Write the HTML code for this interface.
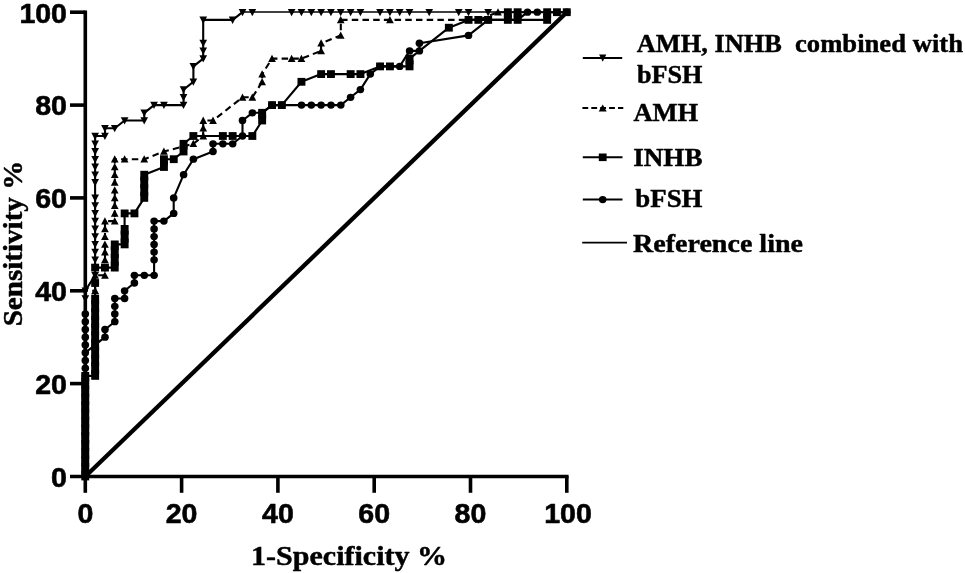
<!DOCTYPE html>
<html lang="en">
<head>
<meta charset="utf-8">
<title>ROC curves</title>
<style>
html,body{margin:0;padding:0;background:#fff;}
body{width:965px;height:573px;overflow:hidden;position:relative;}
svg{position:absolute;left:0;top:0;display:block;}
.tick{font-family:"Liberation Sans",Arial,sans-serif;font-weight:bold;font-size:28px;fill:#000;stroke:#000;stroke-width:0.6px;stroke-linejoin:round;}
.ser{font-family:"Liberation Serif","Times New Roman",serif;font-weight:bold;fill:#000;stroke:#000;stroke-width:0.45px;stroke-linejoin:round;}
.ttl{font-size:27.5px;}
.leg{font-size:26px;}
</style>
</head>
<body>
<svg width="965" height="573" viewBox="0 0 965 573">
<rect width="965" height="573" fill="#fff"/>
<g stroke="#000" stroke-width="3.6" fill="none" stroke-linecap="butt">
<path d="M85.3 10.4 V478.3"/>
<path d="M70 476.5 H568.6"/>
<path d="M85.3 476.5 V492.8"/>
<path d="M181.6 476.5 V492.8"/>
<path d="M70 383.6 H85.3"/>
<path d="M277.9 476.5 V492.8"/>
<path d="M70 290.8 H85.3"/>
<path d="M374.2 476.5 V492.8"/>
<path d="M70 197.9 H85.3"/>
<path d="M470.5 476.5 V492.8"/>
<path d="M70 105.1 H85.3"/>
<path d="M566.8 476.5 V492.8"/>
<path d="M70 12.2 H85.3"/>
</g>
<path d="M85.3 476.5 L566.8 12.2" stroke="#000" stroke-width="4.3" fill="none"/>
<g fill="none" stroke="#000" stroke-width="2.1" stroke-linejoin="round">
<polyline points="85.3,476.5 85.3,468.8 85.3,461.0 85.3,453.3 85.3,445.5 85.3,437.8 85.3,430.1 85.3,422.3 85.3,414.6 85.3,406.9 85.3,399.1 85.3,391.4 85.3,383.6 85.3,375.9 85.3,368.2 85.3,360.4 85.3,352.7 85.3,344.9 85.3,337.2 85.3,329.5 85.3,321.7 85.3,314.0 85.3,306.3 85.3,298.5 85.3,290.8 95.1,275.3 95.1,267.6 95.1,259.8 95.1,252.1 95.1,244.4 95.1,236.6 95.1,228.9 95.1,221.1 95.1,213.4 95.1,205.7 95.1,197.9 95.1,182.4 95.1,174.7 95.1,167.0 95.1,159.2 95.1,151.5 95.1,143.8 95.1,136.0 105.0,136.0 105.0,128.3 114.8,128.3 124.6,120.5 144.3,120.5 144.3,112.8 154.1,105.1 163.9,105.1 183.6,105.1 183.6,97.3 183.6,89.6 193.4,81.8 193.4,66.4 203.2,58.6 203.2,50.9 203.2,43.2 203.2,19.9 232.7,19.9 242.5,12.2"/>
<path stroke-width="1.4" d="M242.0 12.0 H566.8"/>
<polyline stroke-dasharray="6.5 4.2" points="85.3,476.5 85.3,468.8 85.3,461.0 85.3,453.3 85.3,445.5 85.3,437.8 85.3,430.1 85.3,422.3 85.3,414.6 85.3,406.9 85.3,399.1 85.3,391.4 85.3,383.6 85.3,375.9 85.3,368.2 85.3,360.4 85.3,352.7 85.3,344.9 85.3,337.2 85.3,329.5 85.3,321.7 85.3,314.0 85.3,306.3 85.3,298.5 85.3,290.8 95.1,290.8 95.1,275.3 105.0,275.3 105.0,267.6 105.0,259.8 105.0,252.1 105.0,244.4 105.0,236.6 105.0,228.9 105.0,221.1 114.8,221.1 114.8,213.4 114.8,205.7 114.8,197.9 114.8,190.2 114.8,182.4 114.8,174.7 114.8,167.0 114.8,159.2 124.6,159.2 144.3,159.2 163.9,151.5 193.4,143.8 203.2,136.0 203.2,128.3 203.2,120.5 213.0,120.5 242.5,97.3 252.4,97.3 262.2,81.8 262.2,74.1 272.0,58.6 291.7,58.6 301.5,58.6 321.1,50.9 321.1,43.2 340.8,35.4 340.8,19.9 389.9,19.9 478.4,19.9 498.0,12.2 566.8,12.2"/>
<polyline points="85.3,476.5 85.3,468.8 85.3,461.0 85.3,453.3 85.3,445.5 85.3,437.8 85.3,430.1 85.3,422.3 85.3,414.6 85.3,406.9 85.3,399.1 85.3,391.4 85.3,383.6 85.3,375.9 95.1,375.9 95.1,368.2 95.1,360.4 95.1,352.7 95.1,344.9 95.1,337.2 95.1,329.5 95.1,321.7 95.1,314.0 95.1,306.3 95.1,298.5 95.1,283.0 95.1,267.6 105.0,267.6 114.8,267.6 114.8,259.8 114.8,252.1 114.8,244.4 124.6,244.4 124.6,236.6 124.6,228.9 124.6,213.4 134.4,213.4 144.3,197.9 144.3,190.2 144.3,182.4 144.3,174.7 163.9,167.0 163.9,159.2 173.7,159.2 183.6,151.5 183.6,143.8 193.4,136.0 222.9,136.0 232.7,136.0 252.4,136.0 262.2,120.5 262.2,112.8 272.0,105.1 281.8,105.1 301.5,81.8 321.1,74.1 331.0,74.1 350.6,74.1 360.4,74.1 380.1,66.4 389.9,66.4 409.6,66.4 409.6,58.6 448.9,27.7 468.5,19.9 478.4,19.9 488.2,19.9 507.8,19.9 517.7,19.9 547.1,19.9 547.1,12.2 557.0,12.2 566.8,12.2"/>
<polyline points="85.3,476.5 85.3,468.8 85.3,461.0 85.3,453.3 85.3,445.5 85.3,437.8 85.3,430.1 85.3,422.3 85.3,414.6 85.3,406.9 85.3,399.1 85.3,391.4 85.3,383.6 85.3,375.9 85.3,368.2 85.3,360.4 85.3,352.7 95.1,344.9 105.0,337.2 105.0,329.5 114.8,321.7 114.8,314.0 114.8,306.3 114.8,298.5 124.6,298.5 124.6,290.8 134.4,283.0 134.4,275.3 144.3,275.3 154.1,275.3 154.1,259.8 154.1,252.1 154.1,244.4 154.1,236.6 154.1,228.9 154.1,221.1 163.9,221.1 173.7,213.4 173.7,197.9 183.6,174.7 193.4,159.2 213.0,151.5 213.0,143.8 222.9,143.8 232.7,143.8 242.5,136.0 242.5,120.5 252.4,112.8 262.2,112.8 272.0,105.1 281.8,105.1 301.5,105.1 311.3,105.1 321.1,105.1 331.0,105.1 340.8,105.1 350.6,97.3 360.4,89.6 370.3,74.1 380.1,66.4 399.7,66.4 409.6,50.9 419.4,50.9 419.4,43.2 468.5,35.4 488.2,19.9 517.7,19.9 527.5,12.2 537.3,12.2 566.8,12.2"/>
</g>
<g fill="#000">
<path d="M81.5 295.2 h7.7 l-3.9 7.3 z"/>
<path d="M81.5 287.4 h7.7 l-3.9 7.3 z"/>
<path d="M91.3 272.0 h7.7 l-3.9 7.3 z"/>
<path d="M91.3 264.2 h7.7 l-3.9 7.3 z"/>
<path d="M91.3 256.5 h7.7 l-3.9 7.3 z"/>
<path d="M91.3 248.7 h7.7 l-3.9 7.3 z"/>
<path d="M91.3 241.0 h7.7 l-3.9 7.3 z"/>
<path d="M91.3 233.3 h7.7 l-3.9 7.3 z"/>
<path d="M91.3 225.5 h7.7 l-3.9 7.3 z"/>
<path d="M91.3 217.8 h7.7 l-3.9 7.3 z"/>
<path d="M91.3 210.0 h7.7 l-3.9 7.3 z"/>
<path d="M91.3 202.3 h7.7 l-3.9 7.3 z"/>
<path d="M91.3 194.6 h7.7 l-3.9 7.3 z"/>
<path d="M91.3 179.1 h7.7 l-3.9 7.3 z"/>
<path d="M91.3 171.4 h7.7 l-3.9 7.3 z"/>
<path d="M91.3 163.6 h7.7 l-3.9 7.3 z"/>
<path d="M91.3 155.9 h7.7 l-3.9 7.3 z"/>
<path d="M91.3 148.1 h7.7 l-3.9 7.3 z"/>
<path d="M91.3 140.4 h7.7 l-3.9 7.3 z"/>
<path d="M91.3 132.7 h7.7 l-3.9 7.3 z"/>
<path d="M101.1 132.7 h7.7 l-3.9 7.3 z"/>
<path d="M101.1 124.9 h7.7 l-3.9 7.3 z"/>
<path d="M110.9 124.9 h7.7 l-3.9 7.3 z"/>
<path d="M120.8 117.2 h7.7 l-3.9 7.3 z"/>
<path d="M140.4 117.2 h7.7 l-3.9 7.3 z"/>
<path d="M140.4 109.4 h7.7 l-3.9 7.3 z"/>
<path d="M150.2 101.7 h7.7 l-3.9 7.3 z"/>
<path d="M160.1 101.7 h7.7 l-3.9 7.3 z"/>
<path d="M179.7 101.7 h7.7 l-3.9 7.3 z"/>
<path d="M179.7 94.0 h7.7 l-3.9 7.3 z"/>
<path d="M179.7 86.2 h7.7 l-3.9 7.3 z"/>
<path d="M189.5 78.5 h7.7 l-3.9 7.3 z"/>
<path d="M189.5 63.0 h7.7 l-3.9 7.3 z"/>
<path d="M199.4 55.3 h7.7 l-3.9 7.3 z"/>
<path d="M199.4 47.5 h7.7 l-3.9 7.3 z"/>
<path d="M199.4 39.8 h7.7 l-3.9 7.3 z"/>
<path d="M199.4 16.6 h7.7 l-3.9 7.3 z"/>
<path d="M228.8 16.6 h7.7 l-3.9 7.3 z"/>
<path d="M238.7 8.9 h7.7 l-3.9 7.3 z"/>
<path d="M248.5 8.9 h7.7 l-3.9 7.3 z"/>
<path d="M287.8 8.9 h7.7 l-3.9 7.3 z"/>
<path d="M297.6 8.9 h7.7 l-3.9 7.3 z"/>
<path d="M307.5 8.9 h7.7 l-3.9 7.3 z"/>
<path d="M317.3 8.9 h7.7 l-3.9 7.3 z"/>
<path d="M327.1 8.9 h7.7 l-3.9 7.3 z"/>
<path d="M336.9 8.9 h7.7 l-3.9 7.3 z"/>
<path d="M346.8 8.9 h7.7 l-3.9 7.3 z"/>
<path d="M356.6 8.9 h7.7 l-3.9 7.3 z"/>
<path d="M376.2 8.9 h7.7 l-3.9 7.3 z"/>
<path d="M386.1 8.9 h7.7 l-3.9 7.3 z"/>
<path d="M395.9 8.9 h7.7 l-3.9 7.3 z"/>
<path d="M405.7 8.9 h7.7 l-3.9 7.3 z"/>
<path d="M425.4 8.9 h7.7 l-3.9 7.3 z"/>
<path d="M454.9 8.9 h7.7 l-3.9 7.3 z"/>
<path d="M464.7 8.9 h7.7 l-3.9 7.3 z"/>
<path d="M484.3 8.9 h7.7 l-3.9 7.3 z"/>
<path d="M91.3 294.1 h7.7 l-3.9 -7.3 z"/>
<path d="M91.3 278.7 h7.7 l-3.9 -7.3 z"/>
<path d="M101.1 278.7 h7.7 l-3.9 -7.3 z"/>
<path d="M101.1 270.9 h7.7 l-3.9 -7.3 z"/>
<path d="M101.1 263.2 h7.7 l-3.9 -7.3 z"/>
<path d="M101.1 255.4 h7.7 l-3.9 -7.3 z"/>
<path d="M101.1 247.7 h7.7 l-3.9 -7.3 z"/>
<path d="M101.1 240.0 h7.7 l-3.9 -7.3 z"/>
<path d="M101.1 232.2 h7.7 l-3.9 -7.3 z"/>
<path d="M101.1 224.5 h7.7 l-3.9 -7.3 z"/>
<path d="M110.9 224.5 h7.7 l-3.9 -7.3 z"/>
<path d="M110.9 216.7 h7.7 l-3.9 -7.3 z"/>
<path d="M110.9 209.0 h7.7 l-3.9 -7.3 z"/>
<path d="M110.9 201.3 h7.7 l-3.9 -7.3 z"/>
<path d="M110.9 193.5 h7.7 l-3.9 -7.3 z"/>
<path d="M110.9 185.8 h7.7 l-3.9 -7.3 z"/>
<path d="M110.9 178.1 h7.7 l-3.9 -7.3 z"/>
<path d="M110.9 170.3 h7.7 l-3.9 -7.3 z"/>
<path d="M110.9 162.6 h7.7 l-3.9 -7.3 z"/>
<path d="M120.8 162.6 h7.7 l-3.9 -7.3 z"/>
<path d="M140.4 162.6 h7.7 l-3.9 -7.3 z"/>
<path d="M160.1 154.8 h7.7 l-3.9 -7.3 z"/>
<path d="M189.5 147.1 h7.7 l-3.9 -7.3 z"/>
<path d="M199.4 139.4 h7.7 l-3.9 -7.3 z"/>
<path d="M199.4 131.6 h7.7 l-3.9 -7.3 z"/>
<path d="M199.4 123.9 h7.7 l-3.9 -7.3 z"/>
<path d="M209.2 123.9 h7.7 l-3.9 -7.3 z"/>
<path d="M238.7 100.7 h7.7 l-3.9 -7.3 z"/>
<path d="M248.5 100.7 h7.7 l-3.9 -7.3 z"/>
<path d="M258.3 85.2 h7.7 l-3.9 -7.3 z"/>
<path d="M258.3 77.5 h7.7 l-3.9 -7.3 z"/>
<path d="M268.2 62.0 h7.7 l-3.9 -7.3 z"/>
<path d="M287.8 62.0 h7.7 l-3.9 -7.3 z"/>
<path d="M297.6 62.0 h7.7 l-3.9 -7.3 z"/>
<path d="M317.3 54.2 h7.7 l-3.9 -7.3 z"/>
<path d="M317.3 46.5 h7.7 l-3.9 -7.3 z"/>
<path d="M336.9 38.8 h7.7 l-3.9 -7.3 z"/>
<path d="M336.9 23.3 h7.7 l-3.9 -7.3 z"/>
<path d="M386.1 23.3 h7.7 l-3.9 -7.3 z"/>
<path d="M494.2 15.6 h7.7 l-3.9 -7.3 z"/>
<ellipse cx="85.3" cy="476.5" rx="3.8" ry="3.65"/>
<ellipse cx="85.3" cy="468.8" rx="3.8" ry="3.65"/>
<ellipse cx="85.3" cy="461.0" rx="3.8" ry="3.65"/>
<ellipse cx="85.3" cy="453.3" rx="3.8" ry="3.65"/>
<ellipse cx="85.3" cy="445.5" rx="3.8" ry="3.65"/>
<ellipse cx="85.3" cy="437.8" rx="3.8" ry="3.65"/>
<ellipse cx="85.3" cy="430.1" rx="3.8" ry="3.65"/>
<ellipse cx="85.3" cy="422.3" rx="3.8" ry="3.65"/>
<ellipse cx="85.3" cy="414.6" rx="3.8" ry="3.65"/>
<ellipse cx="85.3" cy="406.9" rx="3.8" ry="3.65"/>
<ellipse cx="85.3" cy="399.1" rx="3.8" ry="3.65"/>
<ellipse cx="85.3" cy="391.4" rx="3.8" ry="3.65"/>
<ellipse cx="85.3" cy="383.6" rx="3.8" ry="3.65"/>
<ellipse cx="85.3" cy="375.9" rx="3.8" ry="3.65"/>
<ellipse cx="85.3" cy="368.2" rx="3.8" ry="3.65"/>
<ellipse cx="85.3" cy="360.4" rx="3.8" ry="3.65"/>
<ellipse cx="85.3" cy="352.7" rx="3.8" ry="3.65"/>
<ellipse cx="95.1" cy="344.9" rx="3.8" ry="3.65"/>
<ellipse cx="105.0" cy="337.2" rx="3.8" ry="3.65"/>
<ellipse cx="105.0" cy="329.5" rx="3.8" ry="3.65"/>
<ellipse cx="114.8" cy="321.7" rx="3.8" ry="3.65"/>
<ellipse cx="114.8" cy="314.0" rx="3.8" ry="3.65"/>
<ellipse cx="114.8" cy="306.3" rx="3.8" ry="3.65"/>
<ellipse cx="114.8" cy="298.5" rx="3.8" ry="3.65"/>
<ellipse cx="124.6" cy="298.5" rx="3.8" ry="3.65"/>
<ellipse cx="124.6" cy="290.8" rx="3.8" ry="3.65"/>
<ellipse cx="134.4" cy="283.0" rx="3.8" ry="3.65"/>
<ellipse cx="134.4" cy="275.3" rx="3.8" ry="3.65"/>
<ellipse cx="144.3" cy="275.3" rx="3.8" ry="3.65"/>
<ellipse cx="154.1" cy="275.3" rx="3.8" ry="3.65"/>
<ellipse cx="154.1" cy="259.8" rx="3.8" ry="3.65"/>
<ellipse cx="154.1" cy="252.1" rx="3.8" ry="3.65"/>
<ellipse cx="154.1" cy="244.4" rx="3.8" ry="3.65"/>
<ellipse cx="154.1" cy="236.6" rx="3.8" ry="3.65"/>
<ellipse cx="154.1" cy="228.9" rx="3.8" ry="3.65"/>
<ellipse cx="154.1" cy="221.1" rx="3.8" ry="3.65"/>
<ellipse cx="163.9" cy="221.1" rx="3.8" ry="3.65"/>
<ellipse cx="173.7" cy="213.4" rx="3.8" ry="3.65"/>
<ellipse cx="173.7" cy="197.9" rx="3.8" ry="3.65"/>
<ellipse cx="183.6" cy="174.7" rx="3.8" ry="3.65"/>
<ellipse cx="193.4" cy="159.2" rx="3.8" ry="3.65"/>
<ellipse cx="213.0" cy="151.5" rx="3.8" ry="3.65"/>
<ellipse cx="213.0" cy="143.8" rx="3.8" ry="3.65"/>
<ellipse cx="222.9" cy="143.8" rx="3.8" ry="3.65"/>
<ellipse cx="232.7" cy="143.8" rx="3.8" ry="3.65"/>
<ellipse cx="242.5" cy="136.0" rx="3.8" ry="3.65"/>
<ellipse cx="242.5" cy="120.5" rx="3.8" ry="3.65"/>
<ellipse cx="252.4" cy="112.8" rx="3.8" ry="3.65"/>
<ellipse cx="262.2" cy="112.8" rx="3.8" ry="3.65"/>
<ellipse cx="272.0" cy="105.1" rx="3.8" ry="3.65"/>
<ellipse cx="281.8" cy="105.1" rx="3.8" ry="3.65"/>
<ellipse cx="301.5" cy="105.1" rx="3.8" ry="3.65"/>
<ellipse cx="311.3" cy="105.1" rx="3.8" ry="3.65"/>
<ellipse cx="321.1" cy="105.1" rx="3.8" ry="3.65"/>
<ellipse cx="331.0" cy="105.1" rx="3.8" ry="3.65"/>
<ellipse cx="340.8" cy="105.1" rx="3.8" ry="3.65"/>
<ellipse cx="350.6" cy="97.3" rx="3.8" ry="3.65"/>
<ellipse cx="360.4" cy="89.6" rx="3.8" ry="3.65"/>
<ellipse cx="370.3" cy="74.1" rx="3.8" ry="3.65"/>
<ellipse cx="380.1" cy="66.4" rx="3.8" ry="3.65"/>
<ellipse cx="399.7" cy="66.4" rx="3.8" ry="3.65"/>
<ellipse cx="409.6" cy="50.9" rx="3.8" ry="3.65"/>
<ellipse cx="419.4" cy="50.9" rx="3.8" ry="3.65"/>
<ellipse cx="419.4" cy="43.2" rx="3.8" ry="3.65"/>
<ellipse cx="468.5" cy="35.4" rx="3.8" ry="3.65"/>
<ellipse cx="488.2" cy="19.9" rx="3.8" ry="3.65"/>
<ellipse cx="527.5" cy="12.2" rx="3.8" ry="3.65"/>
<ellipse cx="537.3" cy="12.2" rx="3.8" ry="3.65"/>
<ellipse cx="566.8" cy="12.2" rx="3.8" ry="3.65"/>
<ellipse cx="85.3" cy="344.9" rx="3.8" ry="3.65"/>
<ellipse cx="85.3" cy="337.2" rx="3.8" ry="3.65"/>
<ellipse cx="85.3" cy="329.5" rx="3.8" ry="3.65"/>
<ellipse cx="85.3" cy="321.7" rx="3.8" ry="3.65"/>
<ellipse cx="85.3" cy="314.0" rx="3.8" ry="3.65"/>
<rect x="81.3" y="472.6" width="7.9" height="7.8"/>
<rect x="81.3" y="464.9" width="7.9" height="7.8"/>
<rect x="81.3" y="457.1" width="7.9" height="7.8"/>
<rect x="81.3" y="449.4" width="7.9" height="7.8"/>
<rect x="81.3" y="441.6" width="7.9" height="7.8"/>
<rect x="81.3" y="433.9" width="7.9" height="7.8"/>
<rect x="81.3" y="426.2" width="7.9" height="7.8"/>
<rect x="81.3" y="418.4" width="7.9" height="7.8"/>
<rect x="81.3" y="410.7" width="7.9" height="7.8"/>
<rect x="81.3" y="403.0" width="7.9" height="7.8"/>
<rect x="81.3" y="395.2" width="7.9" height="7.8"/>
<rect x="81.3" y="387.5" width="7.9" height="7.8"/>
<rect x="81.3" y="379.7" width="7.9" height="7.8"/>
<rect x="81.3" y="372.0" width="7.9" height="7.8"/>
<rect x="91.2" y="372.0" width="7.9" height="7.8"/>
<rect x="91.2" y="364.3" width="7.9" height="7.8"/>
<rect x="91.2" y="356.5" width="7.9" height="7.8"/>
<rect x="91.2" y="348.8" width="7.9" height="7.8"/>
<rect x="91.2" y="341.0" width="7.9" height="7.8"/>
<rect x="91.2" y="333.3" width="7.9" height="7.8"/>
<rect x="91.2" y="325.6" width="7.9" height="7.8"/>
<rect x="91.2" y="317.8" width="7.9" height="7.8"/>
<rect x="91.2" y="310.1" width="7.9" height="7.8"/>
<rect x="91.2" y="302.4" width="7.9" height="7.8"/>
<rect x="91.2" y="294.6" width="7.9" height="7.8"/>
<rect x="91.2" y="279.1" width="7.9" height="7.8"/>
<rect x="91.2" y="263.7" width="7.9" height="7.8"/>
<rect x="101.0" y="263.7" width="7.9" height="7.8"/>
<rect x="110.8" y="263.7" width="7.9" height="7.8"/>
<rect x="110.8" y="255.9" width="7.9" height="7.8"/>
<rect x="110.8" y="248.2" width="7.9" height="7.8"/>
<rect x="110.8" y="240.5" width="7.9" height="7.8"/>
<rect x="120.7" y="240.5" width="7.9" height="7.8"/>
<rect x="120.7" y="232.7" width="7.9" height="7.8"/>
<rect x="120.7" y="225.0" width="7.9" height="7.8"/>
<rect x="120.7" y="209.5" width="7.9" height="7.8"/>
<rect x="130.5" y="209.5" width="7.9" height="7.8"/>
<rect x="140.3" y="194.0" width="7.9" height="7.8"/>
<rect x="140.3" y="186.3" width="7.9" height="7.8"/>
<rect x="140.3" y="178.5" width="7.9" height="7.8"/>
<rect x="140.3" y="170.8" width="7.9" height="7.8"/>
<rect x="160.0" y="163.1" width="7.9" height="7.8"/>
<rect x="160.0" y="155.3" width="7.9" height="7.8"/>
<rect x="169.8" y="155.3" width="7.9" height="7.8"/>
<rect x="179.6" y="147.6" width="7.9" height="7.8"/>
<rect x="179.6" y="139.9" width="7.9" height="7.8"/>
<rect x="189.4" y="132.1" width="7.9" height="7.8"/>
<rect x="218.9" y="132.1" width="7.9" height="7.8"/>
<rect x="228.7" y="132.1" width="7.9" height="7.8"/>
<rect x="248.4" y="132.1" width="7.9" height="7.8"/>
<rect x="258.2" y="116.6" width="7.9" height="7.8"/>
<rect x="258.2" y="108.9" width="7.9" height="7.8"/>
<rect x="268.1" y="101.2" width="7.9" height="7.8"/>
<rect x="277.9" y="101.2" width="7.9" height="7.8"/>
<rect x="297.5" y="77.9" width="7.9" height="7.8"/>
<rect x="317.2" y="70.2" width="7.9" height="7.8"/>
<rect x="327.0" y="70.2" width="7.9" height="7.8"/>
<rect x="346.7" y="70.2" width="7.9" height="7.8"/>
<rect x="356.5" y="70.2" width="7.9" height="7.8"/>
<rect x="376.1" y="62.5" width="7.9" height="7.8"/>
<rect x="386.0" y="62.5" width="7.9" height="7.8"/>
<rect x="405.6" y="62.5" width="7.9" height="7.8"/>
<rect x="405.6" y="54.7" width="7.9" height="7.8"/>
<rect x="444.9" y="23.8" width="7.9" height="7.8"/>
<rect x="464.6" y="16.0" width="7.9" height="7.8"/>
<rect x="474.4" y="16.0" width="7.9" height="7.8"/>
<rect x="484.2" y="16.0" width="7.9" height="7.8"/>
<rect x="503.9" y="16.0" width="7.9" height="7.8"/>
<rect x="513.7" y="16.0" width="7.9" height="7.8"/>
<rect x="543.2" y="16.0" width="7.9" height="7.8"/>
<rect x="543.2" y="8.3" width="7.9" height="7.8"/>
<rect x="553.0" y="8.3" width="7.9" height="7.8"/>
<rect x="562.8" y="8.3" width="7.9" height="7.8"/>
<rect x="503.9" y="8.3" width="7.9" height="7.8"/>
<rect x="513.7" y="8.3" width="7.9" height="7.8"/>
<rect x="81.3" y="470.6" width="7.9" height="4.0"/>
<rect x="81.3" y="462.9" width="7.9" height="4.0"/>
<rect x="81.3" y="455.2" width="7.9" height="4.0"/>
<rect x="81.3" y="447.4" width="7.9" height="4.0"/>
<rect x="81.3" y="439.7" width="7.9" height="4.0"/>
<rect x="81.3" y="431.9" width="7.9" height="4.0"/>
<rect x="81.3" y="424.2" width="7.9" height="4.0"/>
<rect x="81.3" y="416.5" width="7.9" height="4.0"/>
<rect x="81.3" y="408.7" width="7.9" height="4.0"/>
<rect x="81.3" y="401.0" width="7.9" height="4.0"/>
<rect x="81.3" y="393.2" width="7.9" height="4.0"/>
<rect x="81.3" y="385.5" width="7.9" height="4.0"/>
<rect x="81.3" y="377.8" width="7.9" height="4.0"/>
<rect x="91.2" y="370.0" width="7.9" height="4.0"/>
<rect x="91.2" y="362.3" width="7.9" height="4.0"/>
<rect x="91.2" y="354.6" width="7.9" height="4.0"/>
<rect x="91.2" y="346.8" width="7.9" height="4.0"/>
<rect x="91.2" y="339.1" width="7.9" height="4.0"/>
<rect x="91.2" y="331.3" width="7.9" height="4.0"/>
<rect x="91.2" y="323.6" width="7.9" height="4.0"/>
<rect x="91.2" y="315.9" width="7.9" height="4.0"/>
<rect x="91.2" y="308.1" width="7.9" height="4.0"/>
<rect x="91.2" y="300.4" width="7.9" height="4.0"/>
<rect x="110.8" y="261.7" width="7.9" height="4.0"/>
<rect x="110.8" y="254.0" width="7.9" height="4.0"/>
<rect x="110.8" y="246.2" width="7.9" height="4.0"/>
<rect x="120.7" y="238.5" width="7.9" height="4.0"/>
<rect x="120.7" y="230.7" width="7.9" height="4.0"/>
<rect x="140.3" y="192.1" width="7.9" height="4.0"/>
<rect x="140.3" y="184.3" width="7.9" height="4.0"/>
<rect x="140.3" y="176.6" width="7.9" height="4.0"/>
<rect x="160.0" y="161.1" width="7.9" height="4.0"/>
<rect x="179.6" y="145.6" width="7.9" height="4.0"/>
<rect x="258.2" y="114.7" width="7.9" height="4.0"/>
<rect x="405.6" y="60.5" width="7.9" height="4.0"/>
<rect x="503.9" y="14.1" width="7.9" height="4.0"/>
<rect x="513.7" y="14.1" width="7.9" height="4.0"/>
<rect x="543.2" y="14.1" width="7.9" height="4.0"/>
</g>
<g class="tick">
<text x="77.4" y="523.1" textLength="15.9" lengthAdjust="spacingAndGlyphs">0</text>
<text x="51.1" y="486.8" textLength="15.9" lengthAdjust="spacingAndGlyphs">0</text>
<text x="165.7" y="523.1" textLength="31.8" lengthAdjust="spacingAndGlyphs">20</text>
<text x="35.2" y="393.9" textLength="31.8" lengthAdjust="spacingAndGlyphs">20</text>
<text x="262.0" y="523.1" textLength="31.8" lengthAdjust="spacingAndGlyphs">40</text>
<text x="35.2" y="301.1" textLength="31.8" lengthAdjust="spacingAndGlyphs">40</text>
<text x="358.3" y="523.1" textLength="31.8" lengthAdjust="spacingAndGlyphs">60</text>
<text x="35.2" y="208.2" textLength="31.8" lengthAdjust="spacingAndGlyphs">60</text>
<text x="454.6" y="523.1" textLength="31.8" lengthAdjust="spacingAndGlyphs">80</text>
<text x="35.2" y="115.4" textLength="31.8" lengthAdjust="spacingAndGlyphs">80</text>
<text x="544.2" y="523.1" textLength="47.6" lengthAdjust="spacingAndGlyphs">100</text>
<text x="19.4" y="22.5" textLength="47.6" lengthAdjust="spacingAndGlyphs">100</text>
</g>
<g class="ser ttl">
<text x="251.1" y="565.1" textLength="196" lengthAdjust="spacingAndGlyphs">1-Specificity %</text>
<text transform="translate(21.6 326.3) rotate(-90)" textLength="165.5" lengthAdjust="spacingAndGlyphs">Sensitivity %</text>
</g>
<g class="ser leg">
<text y="52.2"><tspan x="636.8" textLength="145" lengthAdjust="spacingAndGlyphs">AMH, INHB</tspan> <tspan x="795" textLength="168" lengthAdjust="spacingAndGlyphs">combined with</tspan></text>
<text x="637" y="82.7" textLength="65.5" lengthAdjust="spacingAndGlyphs">bFSH</text>
<text x="633.4" y="121.4" textLength="64.8" lengthAdjust="spacingAndGlyphs">AMH</text>
<text x="633.2" y="165.7" textLength="69.3" lengthAdjust="spacingAndGlyphs">INHB</text>
<text x="635.3" y="207.4" textLength="67.2" lengthAdjust="spacingAndGlyphs">bFSH</text>
<text x="633" y="252.4" textLength="170" lengthAdjust="spacingAndGlyphs">Reference line</text>
</g>
<g stroke="#000" stroke-width="2" fill="none">
<path d="M582.8 58.1 H622.2"/>
<path d="M582.4 108 H623.3" stroke-dasharray="5.8 3.1"/>
<path d="M582.8 157.3 H622.5"/>
<path d="M582.8 199.6 H622.5"/>
<path d="M582.2 242.7 H627" stroke-width="1.7"/>
</g>
<g fill="#000">
<path d="M599.1 54.6 h7.2 l-3.6 7.2 z"/>
<path d="M598.7 111.4 h8 l-4 -7 z"/>
<rect x="598.8" y="153.5" width="7.8" height="7.6"/>
<ellipse cx="602.7" cy="199.6" rx="3.8" ry="3.7"/>
</g>
</svg>
</body>
</html>
